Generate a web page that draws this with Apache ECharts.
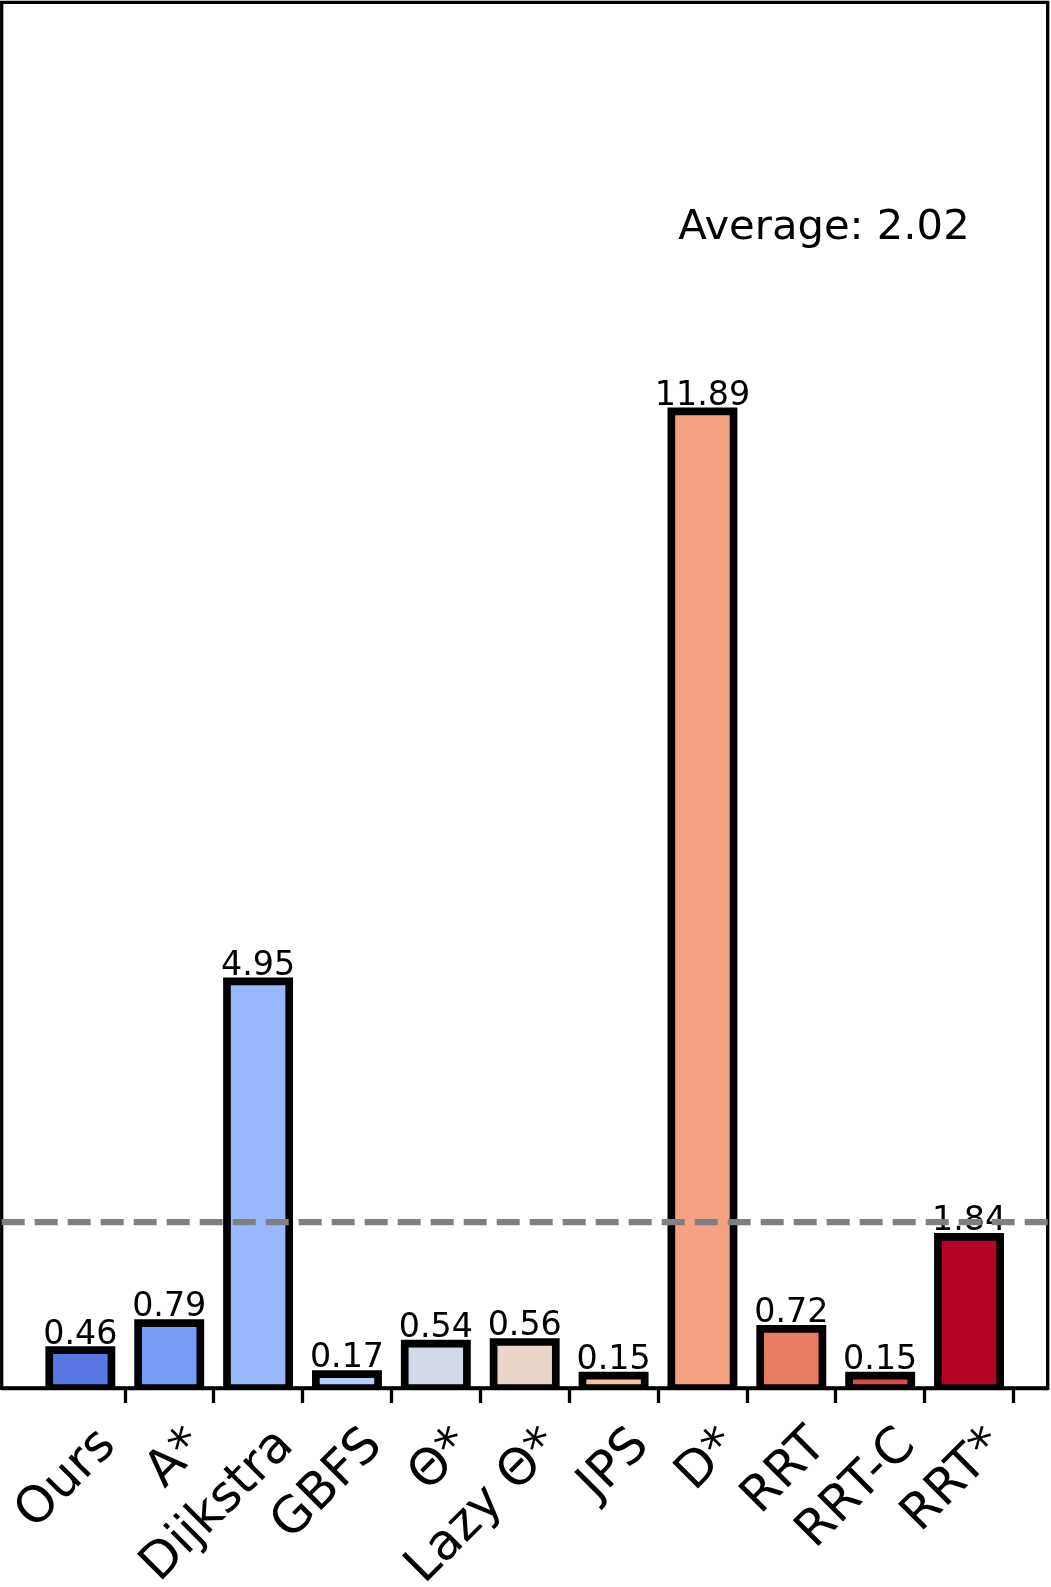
<!DOCTYPE html>
<html>
<head>
<meta charset="utf-8">
<script src="https://cdn.jsdelivr.net/npm/echarts@6/dist/echarts.min.js"></script>
<style>
html,body{margin:0;padding:0;background:#fff;}
#chart{width:1051px;height:1587px;}
</style>
</head>
<body>
<div id="chart"></div>
<script>
const categories = ['Ours', 'A*', 'Dijkstra', 'GBFS', 'Θ*', 'Lazy Θ*', 'JPS', 'D*', 'RRT', 'RRT-C', 'RRT*'];
const values = [0.46, 0.79, 4.95, 0.17, 0.54, 0.56, 0.15, 11.89, 0.72, 0.15, 1.84];
const average = 2.02;
const barColors = ['#5978e3', '#789bf7', '#98b9ff', '#b6cffa', '#d2dae8', '#e9d5ca', '#f6c0a6', '#f6a282', '#ea7b61', '#d44e41', '#b40426'];

const FONT = 'DejaVu Sans';
const BAR_W = 0.7;
const X_MIN = -0.885, X_MAX = 10.885;
const Y_MAX = 16.87;
const LABEL_SHIFT = 0.314;

const chart = echarts.init(document.getElementById('chart'), null, {renderer: 'canvas'});
const option = {
  animation: false,
  backgroundColor: '#fff',
  grid: {
    left: 1.7, right: 3.3, top: 2.3, bottom: 199,
    containLabel: false, outerBoundsMode: 'none',
    show: true, borderColor: '#000', borderWidth: 3.3, backgroundColor: 'transparent'
  },
  xAxis: {
    type: 'value', min: X_MIN, max: X_MAX,
    splitLine: {show: false},
    axisLine: {show: true, onZero: false, lineStyle: {color: '#000', width: 3.3}},
    axisTick: {
      show: true, length: 15, lineStyle: {color: '#000', width: 3.3},
      customValues: categories.map((c, i) => i + 0.5)
    },
    axisLabel: {
      show: true, rotate: 45, margin: 50, fontSize: 50, fontFamily: FONT, color: '#000',
      customValues: categories.map((c, i) => i + LABEL_SHIFT),
      formatter: (v) => categories[Math.round(v - LABEL_SHIFT)]
    }
  },
  yAxis: {
    type: 'value', min: 0, max: Y_MAX, show: false
  },
  graphic: [{
    type: 'text', z: 100,
    style: {
      text: 'Average: ' + average.toFixed(2), x: 824, y: 228,
      textAlign: 'center', textVerticalAlign: 'middle',
      font: '41.7px "DejaVu Sans"', fill: '#000'
    }
  }],
  series: [{
    type: 'custom',
    clip: true,
    data: values.map((v, i) => [i, v]),
    encode: {x: 0, y: 1},
    renderItem: function (params, api) {
      const x = api.value(0), v = api.value(1);
      const p0 = api.coord([x - BAR_W / 2, v]);
      const p1 = api.coord([x + BAR_W / 2, 0]);
      return {
        type: 'rect',
        shape: {x: p0[0], y: p0[1], width: p1[0] - p0[0], height: p1[1] - p0[1]},
        style: {fill: barColors[params.dataIndex], stroke: '#000', lineWidth: 7.7},
        textContent: {
          style: {text: v.toFixed(2), fontSize: 33.3, fontFamily: FONT, fill: '#000'}
        },
        textConfig: {position: 'top', distance: -5}
      };
    },
    markLine: {
      silent: true, symbol: 'none', z: 10,
      label: {show: false},
      lineStyle: {color: '#808080', width: 6.25, type: [23, 10]},
      data: [{yAxis: average}]
    }
  }]
};
chart.setOption(option);
</script>
</body>
</html>
